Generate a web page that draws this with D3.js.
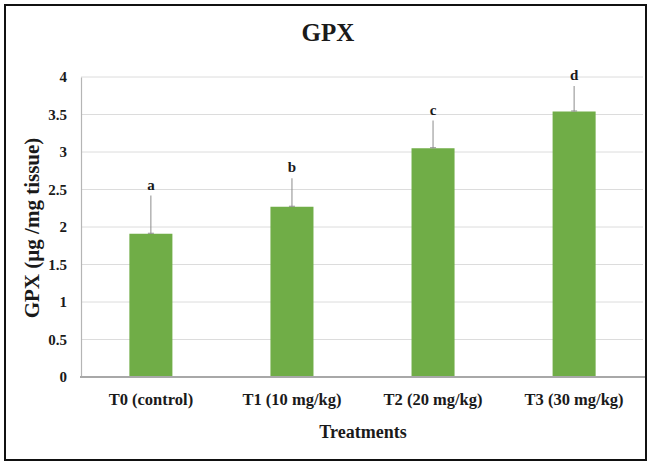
<!DOCTYPE html>
<html>
<head>
<meta charset="utf-8">
<script src="https://cdn.jsdelivr.net/npm/d3@7"></script>
<style>
  html, body { margin: 0; padding: 0; background: #fff; }
  svg { display: block; }
  text { font-family: "Liberation Serif", "Times New Roman", serif; font-weight: bold; fill: #1a1a1a; }
</style>
</head>
<body>
<script>
// GPX activity per treatment group (mean with upper error bar)
const categories = ["T0 (control)", "T1 (10 mg/kg)", "T2 (20 mg/kg)", "T3 (30 mg/kg)"];
const means = [1.91, 2.27, 3.05, 3.54];
const errors = [0.51, 0.38, 0.37, 0.34];
const letters = ["a", "b", "c", "d"];
const yTicks = [0, 0.5, 1, 1.5, 2, 2.5, 3, 3.5, 4];

const W = 648, H = 463;
const svg = d3.select("body").append("svg").attr("width", W).attr("height", H);

// outer frame
svg.append("rect").attr("x", 5).attr("y", 5).attr("width", 641).attr("height", 455)
  .attr("fill", "#fff").attr("stroke", "#111").attr("stroke-width", 2);

const x = d3.scaleBand().domain(categories).range([80, 645]).paddingInner(0.695).paddingOuter(0.35);
const y = d3.scaleLinear().domain([0, 4]).range([377, 77]);

// horizontal gridlines
svg.append("g").selectAll("line").data(yTicks.filter(t => t > 0)).join("line")
  .attr("x1", 81).attr("x2", 643)
  .attr("y1", d => y(d)).attr("y2", d => y(d))
  .attr("stroke", "#dcdcdc").attr("stroke-width", 1);

// y axis
const yAxis = svg.append("g").attr("transform", "translate(81,0)")
  .call(d3.axisLeft(y).tickValues(yTicks).tickSize(0).tickPadding(14).tickFormat(d3.format("")));
yAxis.select(".domain").attr("stroke", "#b5b5b5").attr("stroke-width", 1.2);
yAxis.selectAll("text").attr("font-size", 15).style("font-family", "Liberation Serif").style("font-weight", "bold").attr("fill", "#1a1a1a");

// bars
svg.append("g").selectAll("rect").data(categories).join("rect")
  .attr("x", d => x(d))
  .attr("width", x.bandwidth())
  .attr("y", (d, i) => y(means[i]))
  .attr("height", (d, i) => y(0) - y(means[i]))
  .attr("fill", "#70ad47");

// upper error bars
svg.append("g").selectAll("line").data(categories).join("line")
  .attr("x1", d => x(d) + x.bandwidth() / 2)
  .attr("x2", d => x(d) + x.bandwidth() / 2)
  .attr("y1", (d, i) => y(means[i]))
  .attr("y2", (d, i) => y(means[i] + errors[i]))
  .attr("stroke", "#8c8c8c").attr("stroke-width", 1);
svg.append("g").selectAll("line").data(categories).join("line")
  .attr("x1", d => x(d) + x.bandwidth() / 2 - 3)
  .attr("x2", d => x(d) + x.bandwidth() / 2 + 3)
  .attr("y1", (d, i) => y(means[i]) - 0.5)
  .attr("y2", (d, i) => y(means[i]) - 0.5)
  .attr("stroke", "#8c8c8c").attr("stroke-width", 1);

// significance letters
svg.append("g").selectAll("text").data(categories).join("text")
  .attr("x", d => x(d) + x.bandwidth() / 2)
  .attr("y", (d, i) => y(means[i] + errors[i]) - 6)
  .attr("text-anchor", "middle")
  .attr("font-size", 15)
  .text((d, i) => letters[i]);

// x axis
const xAxis = svg.append("g").attr("transform", "translate(0,377)")
  .call(d3.axisBottom(x).tickSize(0).tickPadding(16));
xAxis.select(".domain").attr("stroke", "#a8a8a8").attr("stroke-width", 2).attr("d", "M80,0H645");
xAxis.selectAll("text").attr("font-size", 16.5).style("font-family", "Liberation Serif").style("font-weight", "bold").attr("fill", "#1a1a1a");

// titles
svg.append("text").attr("x", 328).attr("y", 41).attr("text-anchor", "middle")
  .attr("font-size", 25).text("GPX");
svg.append("text").attr("x", 363).attr("y", 438).attr("text-anchor", "middle")
  .attr("font-size", 18).text("Treatments");
svg.append("text").attr("transform", "translate(39,228) rotate(-90)").attr("text-anchor", "middle")
  .attr("font-size", 21).text("GPX (µg /mg tissue)");
</script>
</body>
</html>
